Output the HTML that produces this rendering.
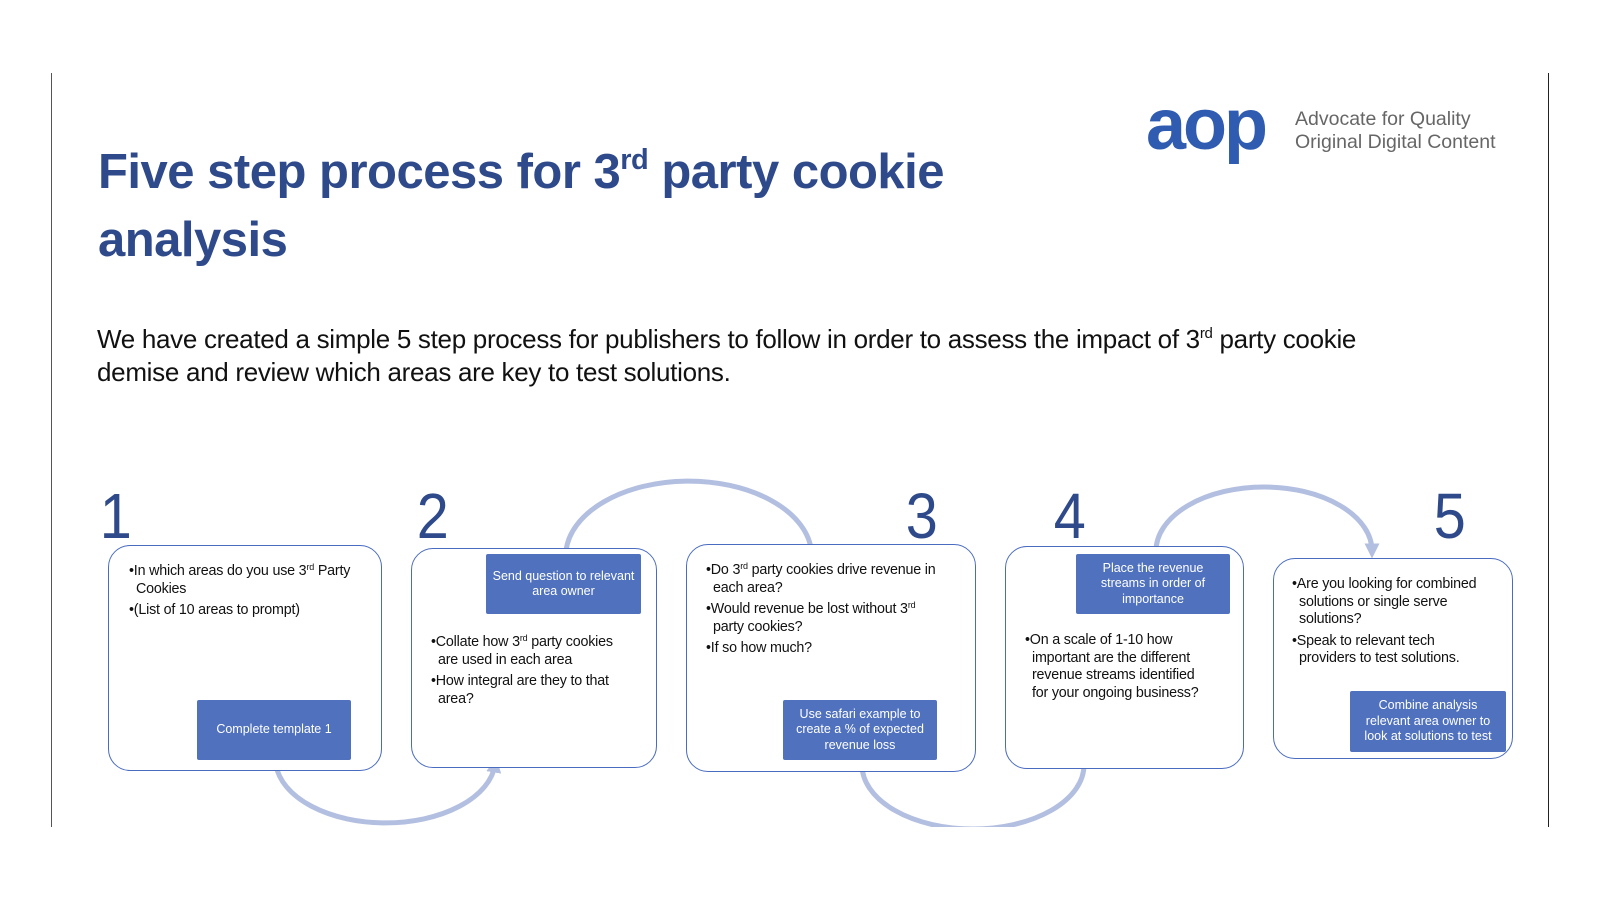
<!DOCTYPE html>
<html><head><meta charset="utf-8">
<style>
body{margin:0;width:1600px;height:900px;background:#fff;position:relative;overflow:hidden;font-family:"Liberation Sans",sans-serif}
.a{position:absolute}
.vl{position:absolute;width:1px;background:#555;top:73px;height:754px}
.title{left:98px;top:138px;font-size:49px;font-weight:bold;color:#2f4a8a;line-height:68px;letter-spacing:-0.5px}
.title sup{font-size:29px;vertical-align:19px;line-height:0}
.para{left:97px;top:323px;font-size:26px;color:#111;line-height:33px;letter-spacing:-0.3px}
.para sup{font-size:15px;vertical-align:10px;line-height:0}
.box{position:absolute;border:1.6px solid #4a6cc0;border-radius:22px;background:#fff}
.btn{position:absolute;background:#4f71be;color:#fff;font-size:12.5px;text-align:center;display:flex;align-items:center;justify-content:center;line-height:15.5px;border-radius:2px}
.num{position:absolute;font-size:64px;color:#2f4a8a;line-height:64px;transform:scaleX(0.9)}
.t{position:absolute;font-size:14.3px;color:#111;line-height:17.5px;letter-spacing:-0.2px;white-space:nowrap}
.t sup{font-size:9px;vertical-align:5px;line-height:0}
.t p{margin:0 0 4px 0;padding-left:7px;text-indent:-7px}
</style></head><body>
<div class="vl" style="left:51px"></div>
<div class="vl" style="left:1548px;background:#222"></div>

<div class="a title">Five step process for 3<sup>rd</sup> party cookie<br>analysis</div>
<div class="a para">We have created a simple 5 step process for publishers to follow in order to assess the impact of 3<sup>rd</sup> party cookie<br>demise and review which areas are key to test solutions.</div>

<div class="a" style="left:1146px;top:89px;font-size:72px;font-weight:bold;color:#2f5bb0;letter-spacing:-3px;line-height:72px">aop</div>
<div class="a" style="left:1295px;top:108px;font-size:19.5px;color:#666;line-height:23px">Advocate for Quality<br>Original Digital Content</div>

<svg class="a" style="left:0;top:0" width="1600" height="900">
<defs><marker id="ar" markerWidth="3" markerHeight="3" refX="1.5" refY="1.5" orient="auto"><path d="M0,0 L3,1.5 L0,3z" fill="#b3bfe0"/></marker></defs>
<g fill="none" stroke="#b3bfe0" stroke-width="5">
<path d="M276,765 A110,64 0 0 0 495,765" marker-end="url(#ar)"/>
<path d="M566,551 A123,75 0 0 1 811,548"/>
<path d="M862,765 A111,64 0 0 0 1084,765"/>
<path d="M1156,551 A108,64 0 0 1 1372,551" marker-end="url(#ar)"/>
</g>
<rect x="0" y="827" width="1600" height="73" fill="#fff"/>
</svg>

<div class="num" style="left:98px;top:484px">1</div>
<div class="num" style="left:415px;top:484px">2</div>
<div class="num" style="left:904px;top:484px">3</div>
<div class="num" style="left:1052px;top:484px">4</div>
<div class="num" style="left:1432px;top:484px">5</div>

<div class="box" style="left:108px;top:545px;width:272px;height:224px"></div>
<div class="box" style="left:411px;top:548px;width:244px;height:218px"></div>
<div class="box" style="left:686px;top:544px;width:288px;height:226px"></div>
<div class="box" style="left:1005px;top:546px;width:237px;height:221px"></div>
<div class="box" style="left:1273px;top:558px;width:238px;height:199px"></div>

<div class="btn" style="left:197px;top:700px;width:154px;height:60px">Complete template 1</div>
<div class="btn" style="left:486px;top:554px;width:155px;height:60px">Send question to relevant<br>area owner</div>
<div class="btn" style="left:783px;top:700px;width:154px;height:60px">Use safari example to<br>create a % of expected<br>revenue loss</div>
<div class="btn" style="left:1076px;top:554px;width:154px;height:60px">Place the revenue<br>streams in order of<br>importance</div>
<div class="btn" style="left:1350px;top:691px;width:156px;height:61px">Combine analysis<br>relevant area owner to<br>look at solutions to test</div>

<div class="t" style="left:129px;top:563px"><p>•In which areas do you use 3<sup>rd</sup> Party<br>Cookies</p><p>•(List of 10 areas to prompt)</p></div>
<div class="t" style="left:431px;top:634px"><p>•Collate how 3<sup>rd</sup> party cookies<br>are used in each area</p><p>•How integral are they to that<br>area?</p></div>
<div class="t" style="left:706px;top:562px"><p>•Do 3<sup>rd</sup> party cookies drive revenue in<br>each area?</p><p>•Would revenue be lost without 3<sup>rd</sup><br>party cookies?</p><p>•If so how much?</p></div>
<div class="t" style="left:1025px;top:632px"><p>•On a scale of 1-10 how<br>important are the different<br>revenue streams identified<br>for your ongoing business?</p></div>
<div class="t" style="left:1292px;top:576px"><p>•Are you looking for combined<br>solutions or single serve<br>solutions?</p><p>•Speak to relevant tech<br>providers to test solutions.</p></div>
</body></html>
